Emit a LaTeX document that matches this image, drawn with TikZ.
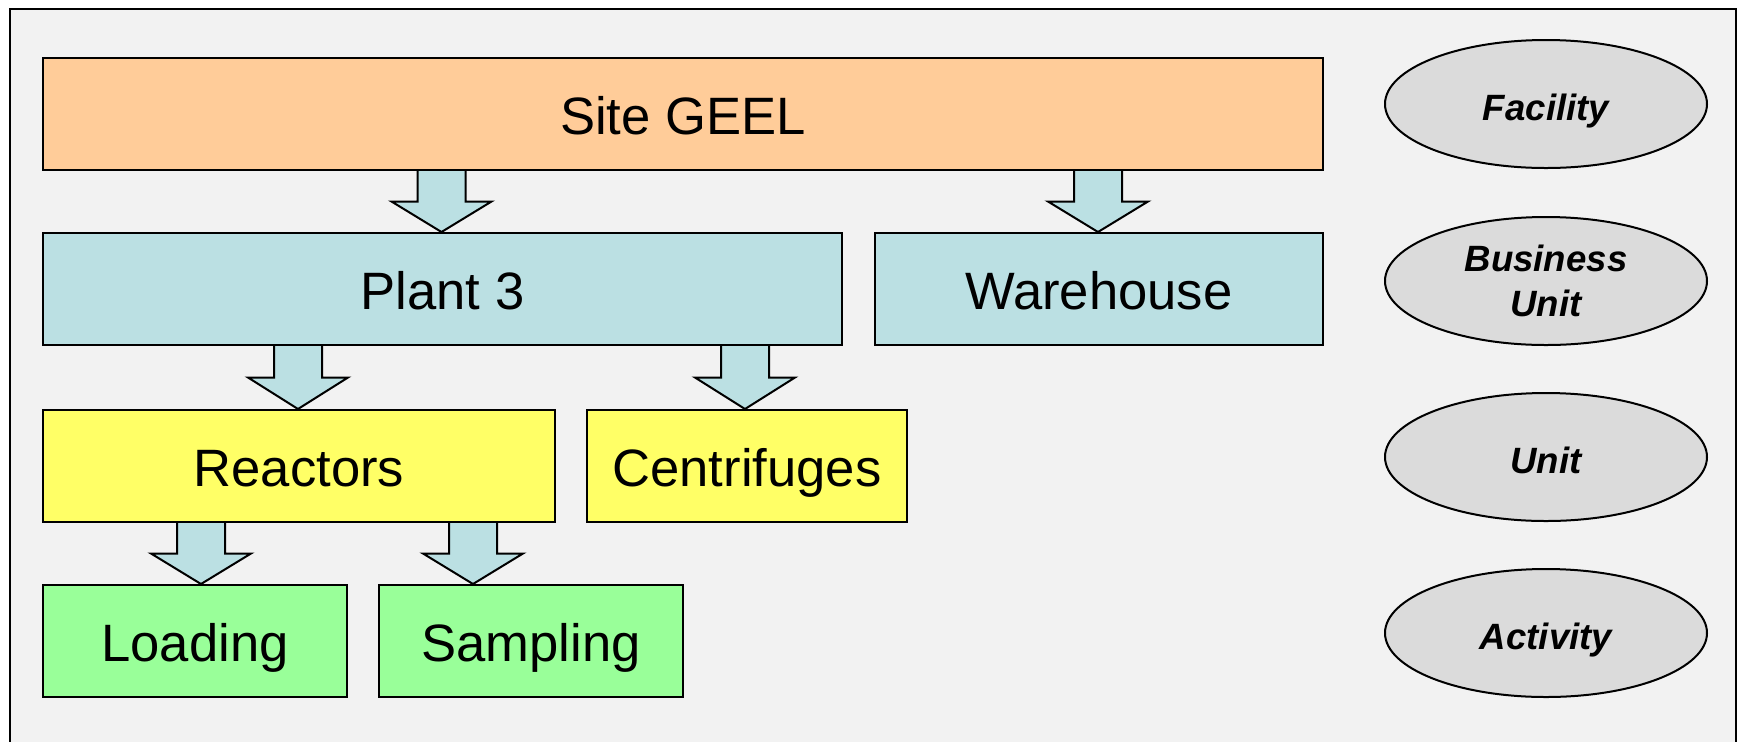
\documentclass[tikz,border=0pt]{standalone}
\usepackage{fontspec}
\setmainfont{Liberation Sans}
\usetikzlibrary{shapes.geometric,calc}
\definecolor{bgc}{HTML}{F2F2F2}
\definecolor{sitec}{HTML}{FFCC99}
\definecolor{bluec}{HTML}{BBE0E3}
\definecolor{yelc}{HTML}{FFFF66}
\definecolor{grnc}{HTML}{99FF99}
\definecolor{ellc}{HTML}{DBDBDB}
\tikzset{
  box/.style={draw=black, line width=1pt, rectangle, inner sep=0pt, anchor=north west,
    minimum height=56pt, text height=20.8pt, text depth=0pt,
    font=\fontsize{26.3}{30}\selectfont},
  lvl/.style={draw=black, line width=1pt, ellipse, inner sep=0pt, fill=ellc,
    minimum width=161pt, minimum height=64pt, align=center,
    font=\fontsize{18.3}{22.5}\selectfont\bfseries\itshape},
  lvlone/.style={lvl, text height=16.1pt, text depth=0pt},
  barrow/.style={fill=bluec, draw=black, line width=1pt, line join=miter}
}
\newcommand\blockarrow[3]{%
  \coordinate (tmpx) at (#3,0);
  \filldraw[barrow] let \p1=(tmpx |- #1.south), \p2=(tmpx |- #2.north) in
    (\x1-12pt,\y1) -- (\x1-12pt,{(\y1+\y2)/2}) -- (\x1-25pt,{(\y1+\y2)/2}) -- (\x2,\y2)
    -- (\x1+25pt,{(\y1+\y2)/2}) -- (\x1+12pt,{(\y1+\y2)/2}) -- (\x1+12pt,\y1);
}
\begin{document}
\begin{tikzpicture}[x=0.5pt,y=-0.5pt]
\fill[white] (0,0) rectangle (1742,741);
\useasboundingbox (0,0) rectangle (1742,741);
\draw[fill=bgc, line width=1.2pt] (10,9) rectangle (1736,800);

\node[box, fill=sitec, minimum width=640pt] (site) at (42,57) {Site GEEL};
\node[box, fill=bluec, minimum width=399.5pt] (plant) at (42,232) {Plant 3};
\node[box, fill=bluec, minimum width=224pt] (ware) at (874,232) {Warehouse};
\node[box, fill=yelc, minimum width=256pt] (reac) at (42,409) {Reactors};
\node[box, fill=yelc, minimum width=160pt] (cent) at (586,409) {Centrifuges};
\node[box, fill=grnc, minimum width=152pt] (load) at (42,584) {Loading};
\node[box, fill=grnc, minimum width=152pt] (samp) at (378,584) {Sampling};

\blockarrow{site}{plant}{441.5}
\blockarrow{site}{ware}{1098}
\blockarrow{plant}{reac}{298}
\blockarrow{plant}{cent}{745}
\blockarrow{reac}{load}{201}
\blockarrow{reac}{samp}{473}

\node[lvlone] (fac) at (1546,104) {Facility};
\node[lvl] (bu) at (1546,281) {Business\\Unit};
\node[lvlone] (unit) at (1546,457) {Unit};
\node[lvlone] (act) at (1546,633) {Activity};
\end{tikzpicture}
\end{document}
